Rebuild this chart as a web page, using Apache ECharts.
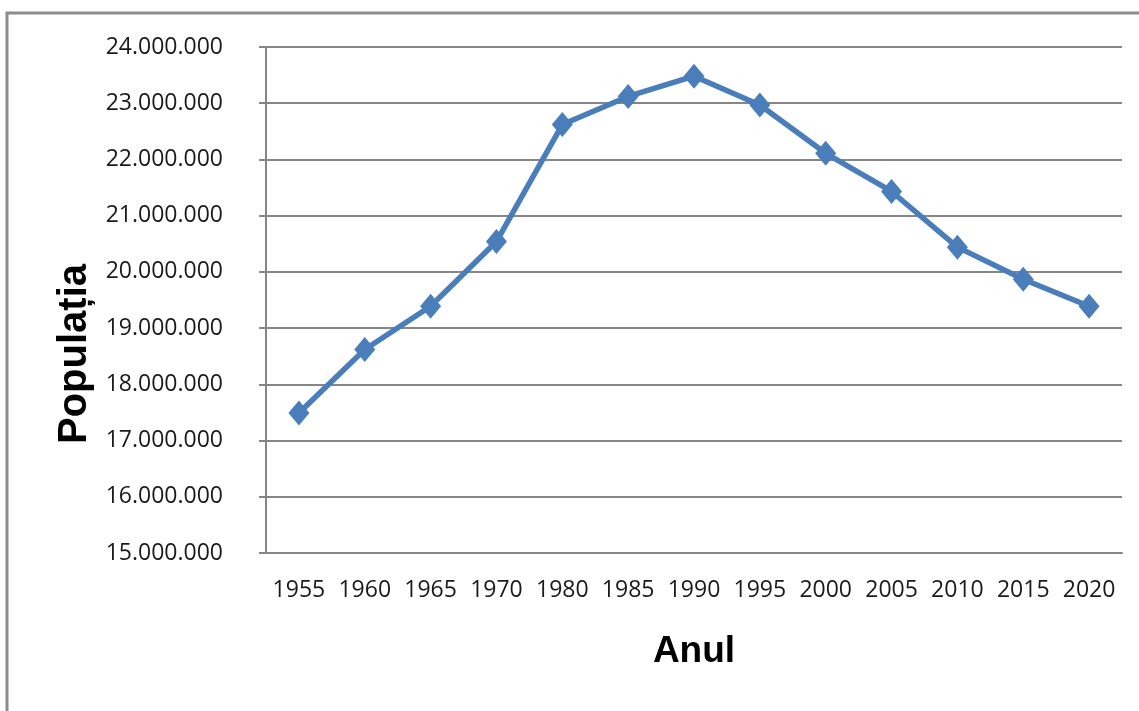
<!DOCTYPE html>
<html>
<head>
<meta charset="utf-8">
<style>
  html, body { margin: 0; padding: 0; background: #fff; }
  #chart { width: 1139px; height: 711px; }
</style>
<script src="https://cdn.jsdelivr.net/npm/echarts@6/dist/echarts.min.js"></script>
</head>
<body>
<div id="chart"></div>
<script>
// ani
const years = ['1955', '1960', '1965', '1970', '1980', '1985', '1990', '1995', '2000', '2005', '2010', '2015', '2020']
// populatia
const population = [17490000, 18620000, 19390000, 20540000, 22620000, 23120000, 23480000, 22970000, 22110000, 21430000, 20440000, 19870000, 19390000]
const yMin = 15000000
const yMax = 24000000
const yStep = 1000000

const axisGray = '#868686'
const lineBlue = '#4a7ebb'
const labelFont = "'Open Sans', sans-serif"
const titleFont = "'Liberation Sans', sans-serif"

function withDots(v) {
  return String(v).replace(/\B(?=(\d{3})+(?!\d))/g, '.')
}

const chart = echarts.init(document.getElementById('chart'))
chart.setOption({
  animation: false,
  graphic: [{
    type: 'rect',
    shape: { x: 7, y: 13, width: 1150, height: 720 },
    style: { fill: 'none', stroke: '#8c8c8c', lineWidth: 3 },
    silent: true
  }],
  grid: {
    left: 266,
    right: 17,
    top: 47,
    bottom: 158,
    containLabel: false
  },
  xAxis: {
    type: 'category',
    data: years,
    boundaryGap: true,
    name: 'Anul',
    nameLocation: 'middle',
    nameGap: 80,
    nameTextStyle: {
      fontFamily: titleFont,
      fontWeight: 'bold',
      fontSize: 37,
      color: '#000'
    },
    axisLine: { lineStyle: { color: axisGray, width: 2 } },
    axisTick: { length: 9, lineStyle: { color: axisGray, width: 2 } },
    axisLabel: {
      interval: 0,
      margin: 26,
      fontFamily: labelFont,
      fontSize: 23,
      color: '#1a1a1a'
    },
    splitLine: { show: false }
  },
  yAxis: {
    type: 'value',
    min: yMin,
    max: yMax,
    interval: yStep,
    name: 'Populația',
    nameLocation: 'middle',
    nameGap: 156,
    nameTextStyle: {
      fontFamily: titleFont,
      fontWeight: 'bold',
      fontSize: 40,
      color: '#000',
      padding: [0, 108, 0, 0]
    },
    axisLine: { show: true, lineStyle: { color: axisGray, width: 2 } },
    axisTick: { show: true, length: 7, lineStyle: { color: axisGray, width: 2 } },
    axisLabel: {
      margin: 43,
      fontFamily: labelFont,
      fontSize: 23,
      color: '#1a1a1a',
      formatter: withDots
    },
    splitLine: { lineStyle: { color: axisGray, width: 2 } }
  },
  series: [{
    name: 'Populația',
    type: 'line',
    data: population,
    symbol: 'diamond',
    symbolSize: [21, 25],
    lineStyle: { color: lineBlue, width: 5.5 },
    itemStyle: { color: lineBlue }
  }]
})
</script>
</body>
</html>
